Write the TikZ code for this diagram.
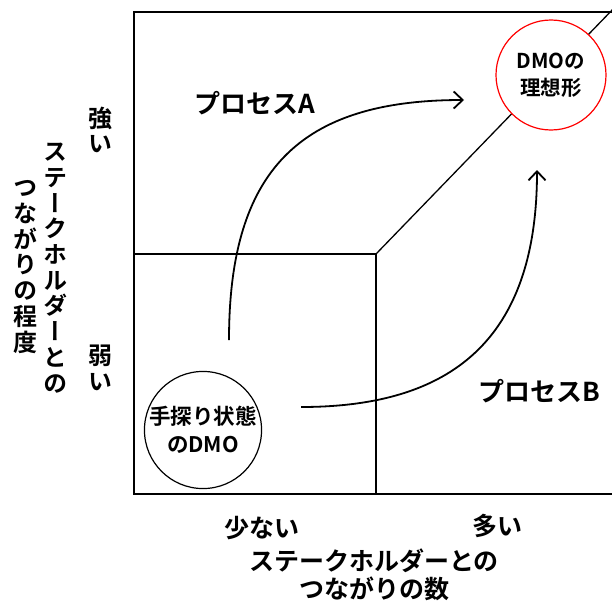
\documentclass[tikz,border=0pt]{standalone}
\usepackage{fontspec}
\setmainfont{Noto Sans CJK JP}[BoldFont={Noto Sans CJK JP Bold}]
\newfontfamily\jpv{Noto Sans CJK JP Bold}[RawFeature=+vert]
\usetikzlibrary{arrows.meta}

\tikzset{
  lbl/.style={font=\bfseries\fontsize{25}{28}\selectfont, inner sep=0pt, align=center},
  vlbl/.style={font=\jpv\fontsize{24}{25.7}\selectfont, inner sep=0pt, align=center},
  bubble/.style={circle, draw, line width=1.2pt, fill=white, minimum size=110pt,
    inner sep=0pt, align=center, font=\bfseries\fontsize{21.5}{28}\selectfont},
  flow/.style={line width=1.8pt, -{Straight Barb[length=9pt,width=17pt,line width=1.8pt]}}
}

\begin{document}
\begin{tikzpicture}[x=1pt,y=-1pt]
  \useasboundingbox (0,0) rectangle (612,602);

  % frame and quadrants
  \draw[line width=2pt] (616,12) -- (134,12) -- (134,494) -- (616,494);
  \draw[line width=1.3pt] (134,254) -- (376,254) -- (376,494);
  \coordinate (mid) at (376,254);
  \coordinate (top) at (616,6);
  \draw[line width=1.3pt] (mid) -- (top);

  % the two states
  \node[bubble] (now) at (203,430) {手探り状態\\のDMO};
  \node[bubble, draw=red, font=\bfseries\fontsize{20.5}{27}\selectfont] (goal) at (551,75) {DMOの\\理想形};

  % processes
  \coordinate (a0) at (229,340);
  \coordinate (a1) at (464,100);
  \coordinate (b0) at (301,407);
  \coordinate (b1) at (537,170);
  \draw[flow] (a0) .. controls (229,170) and (300,100) .. (a1);
  \draw[flow] (b0) .. controls (440,407) and (537,350) .. (b1);
  \node[lbl, font=\bfseries\fontsize{26}{28}\selectfont] (procA) at (255,103) {プロセスA};
  \node[lbl, font=\bfseries\fontsize{26}{28}\selectfont] (procB) at (539,391) {プロセスB};

  % vertical axis
  \node[vlbl] (strong) at (100,130) {強\\い};
  \node[vlbl] (weak) at (100,368) {弱\\い};
  \node[vlbl] (ytitleA) at (55,268) {ス\\テ\\ー\\ク\\ホ\\ル\\ダ\\ー\\と\\の};
  \node[vlbl] (ytitleB) at (25,267) {つ\\な\\が\\り\\の\\程\\度};

  % horizontal axis
  \node[lbl] (few) at (262,528) {少ない};
  \node[lbl] (many) at (497,526) {多い};
  \node[lbl] (xtitle) at (374,575) {ステークホルダーとの\\つながりの数};
\end{tikzpicture}
\end{document}
